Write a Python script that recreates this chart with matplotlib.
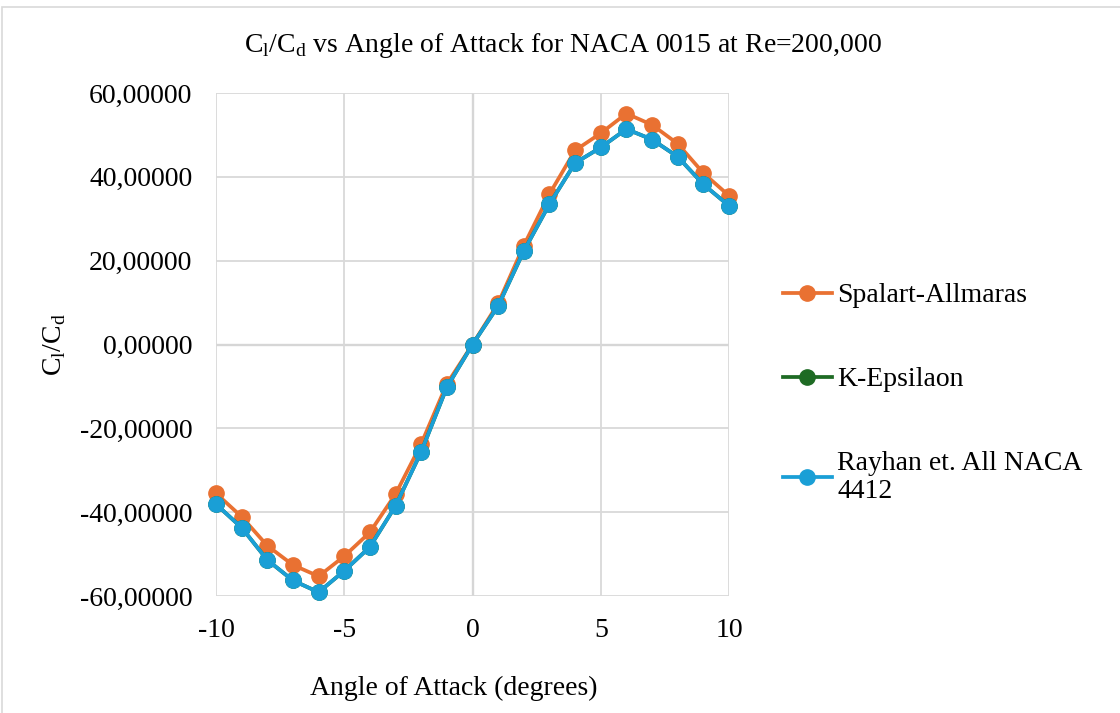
import matplotlib.pyplot as plt
from matplotlib.patches import Rectangle
from matplotlib.ticker import FuncFormatter

plt.rcParams['font.family'] = ['Liberation Serif', 'DejaVu Serif']
plt.rcParams['mathtext.fontset'] = 'custom'
plt.rcParams['mathtext.rm'] = 'Liberation Serif'
plt.rcParams['axes.unicode_minus'] = False

# angle of attack (degrees)
angles = list(range(-10, 11))

# Cl/Cd values
spalart = [-35.5, -41.1, -48.0, -52.6, -55.3, -50.5, -44.8, -35.7, -23.7, -9.4, 0.0,
           9.8, 23.6, 35.9, 46.3, 50.4, 55.1, 52.4, 47.9, 40.9, 35.5]
k_eps = [-38.1, -43.7, -51.4, -56.3, -59.1, -54.0, -48.3, -38.5, -25.6, -10.2, 0.0,
         9.2, 22.3, 33.5, 43.3, 47.0, 51.4, 48.9, 44.8, 38.2, 33.1]
rayhan = [-38.1, -43.7, -51.4, -56.3, -59.1, -54.0, -48.3, -38.5, -25.6, -10.2, 0.0,
          9.2, 22.3, 33.5, 43.3, 47.0, 51.4, 48.9, 44.8, 38.2, 33.1]

series_names = ['Spalart-Allmaras', 'K-Epsilaon', 'Rayhan et. All NACA\n4412']
colors = ['#E97132', '#1E6B24', '#1A9FD6']

FS = 20
W, H = 1120, 713
fig = plt.figure(figsize=(W / 100, H / 100), dpi=100)
ax = fig.add_axes([216 / W, 1 - 596 / H, 513 / W, 503 / H])

for data, name, c in zip([spalart, k_eps, rayhan], series_names, colors):
    ax.plot(angles, data, color=c, linewidth=2.7, marker='o', markersize=11,
            label=name, zorder=3, clip_on=False)

ax.set_xlim(-10, 10)
ax.set_ylim(-60, 60)
ax.set_xticks([-10, -5, 0, 5, 10])
ax.set_yticks(range(-60, 61, 20))
ax.yaxis.set_major_formatter(FuncFormatter(lambda v, p: f'{v:.5f}'.replace('.', ',')))
ax.grid(True, color='#D9D9D9', linewidth=1.3, zorder=0)
ax.axhline(0, color='#BFBFBF', linewidth=1.6, zorder=1)
ax.axvline(0, color='#BFBFBF', linewidth=1.6, zorder=1)
for s in ax.spines.values():
    s.set_visible(False)
ax.tick_params(axis='y', length=0, labelsize=FS, pad=17)
ax.tick_params(axis='x', length=0, labelsize=FS, pad=16)

ax.set_xlabel('Angle of Attack (degrees)', fontsize=FS)
ax.xaxis.set_label_coords((454 - 216) / 513, (596 - 688) / 503)
ax.xaxis.label.set_va('center')
ax.set_ylabel(r'C$_\mathregular{l}$/C$_\mathregular{d}$', fontsize=FS)
ax.yaxis.set_label_coords((55 - 216) / 513, 0.5)
ax.yaxis.label.set_va('center')
fig.text(563 / W, 1 - 45 / H,
         r'C$_\mathregular{l}$/C$_\mathregular{d}$ vs Angle of Attack for NACA 0015 at Re=200,000',
         ha='center', va='center', fontsize=FS)

leg = ax.legend(loc='upper left', bbox_to_anchor=(783 / W, 1 - 283 / H),
                bbox_transform=fig.transFigure, frameon=False, borderpad=0, borderaxespad=0,
                fontsize=FS, handlelength=1.75, labelspacing=2.1, handletextpad=0.2)

fig.patches.append(Rectangle((2 / W, -0.01), 1.02, 1 - 7 / H + 0.01, transform=fig.transFigure,
                             fill=False, edgecolor='#D9D9D9', linewidth=1.2))

fig.savefig('out.png', dpi=100)
